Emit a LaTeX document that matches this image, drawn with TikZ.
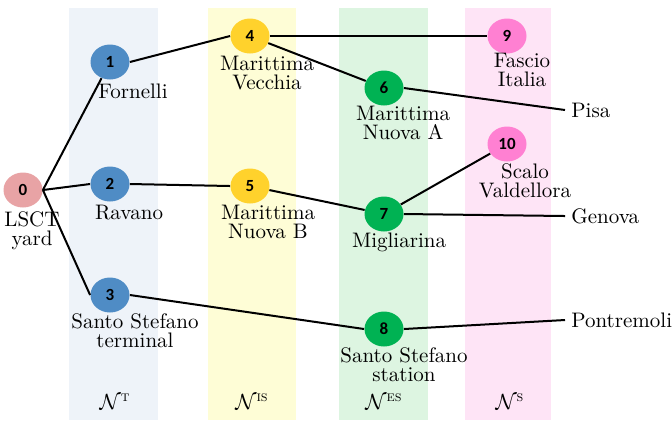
\documentclass[tikz,border=0pt]{standalone}
\usepackage{fontspec}
\usepackage{amsmath}
\usepackage{amssymb}
\usetikzlibrary{shapes.geometric}
\newfontfamily\numfont{Carlito}

\definecolor{bandT}{HTML}{EEF3F9}
\definecolor{bandIS}{HTML}{FEFDD6}
\definecolor{bandES}{HTML}{DDF5E1}
\definecolor{bandS}{HTML}{FEE4F6}
\definecolor{yardcol}{HTML}{E8A3A5}
\definecolor{tcol}{HTML}{4F8CC5}
\definecolor{iscol}{HTML}{FFD22C}
\definecolor{escol}{HTML}{00B253}
\definecolor{scol}{HTML}{FF80D2}

\tikzset{
	stn/.style={ellipse, minimum width=19.5pt, minimum height=17.5pt, inner sep=0pt,
		font=\numfont\bfseries\fontsize{8.5}{8.5}\selectfont},
	lbl/.style={align=center, inner sep=0pt, font=\fontsize{10.5}{9.5}\selectfont},
	ext/.style={anchor=west, inner sep=3pt, font=\fontsize{10.5}{10.5}\selectfont},
	setlbl/.style={font=\fontsize{10.5}{10.5}\selectfont},
	track/.style={line width=1pt, black}
}

\begin{document}
\begin{tikzpicture}[x=0.5pt, y=-0.5pt]
			\useasboundingbox (0,0) rectangle (672,420);

			% sets of nodes
			\fill[bandT] (69,8) rectangle (158,420);
			\fill[bandIS] (208,8) rectangle (296,420);
			\fill[bandES] (339,8) rectangle (428,420);
			\fill[bandS] (465,8) rectangle (551,420);

			\node[setlbl] (setT) at (115,402) {$\mathcal{N}^{\text{\textsc{t}}}$};
			\node[setlbl] (setIS) at (252,402) {$\mathcal{N}^{\text{\textsc{is}}}$};
			\node[setlbl] (setES) at (384,402) {$\mathcal{N}^{\text{\textsc{es}}}$};
			\node[setlbl] (setS) at (510,402) {$\mathcal{N}^{\text{\textsc{s}}}$};

			% stations
			\node[stn, fill=yardcol] (n0) at (23,190) {0};
			\node[stn, fill=tcol] (n1) at (110,62) {1};
			\node[stn, fill=tcol] (n2) at (110,184) {2};
			\node[stn, fill=tcol] (n3) at (110,295) {3};
			\node[stn, fill=iscol] (n4) at (250,36) {4};
			\node[stn, fill=iscol] (n5) at (250,186) {5};
			\node[stn, fill=escol] (n6) at (384,88) {6};
			\node[stn, fill=escol] (n7) at (384,214) {7};
			\node[stn, fill=escol] (n8) at (384,329) {8};
			\node[stn, fill=scol] (n9) at (507,36) {9};
			\node[stn, fill=scol] (n10) at (507,144) {10};

			\node[lbl] (l0) at (32,231) {LSCT\\yard};
			\node[lbl] (l1) at (133,91) {Fornelli};
			\node[lbl] (l2) at (129,213) {Ravano};
			\node[lbl] (l3) at (135,331) {Santo Stefano\\terminal};
			\node[lbl] (l4) at (267,73) {Marittima\\Vecchia};
			\node[lbl] (l5) at (268,222) {Marittima\\Nuova B};
			\node[lbl] (l6) at (403,123) {Marittima\\Nuova A};
			\node[lbl] (l7) at (399,242) {Migliarina};
			\node[lbl] (l8) at (404,365) {Santo Stefano\\station};
			\node[lbl] (l9) at (522,70) {Fascio\\Italia};
			\node[lbl] (l10) at (525,181) {Scalo\\Valdellora};

			\node[ext] (pisa) at (565,110) {Pisa};
			\node[ext] (genova) at (565,216) {Genova};
			\node[ext] (pontremoli) at (565,320) {Pontremoli};

			% tracks
			\draw[track] (n0.east) -- (n1);
			\draw[track] (n0.east) -- (n2.west);
			\draw[track] (n0.east) -- (n3.west);
			\draw[track] (n1.east) -- (n4.west);
			\draw[track] (n2.east) -- (n5.west);
			\draw[track] (n3.east) -- (n8.west);
			\draw[track] (n4.east) -- (n9.west);
			\draw[track] (n4) -- (n6);
			\draw[track] (n5) -- (n7);
			\draw[track] (n7) -- (n10);
			\draw[track] (n6.east) -- (pisa.west);
			\draw[track] (n7.east) -- (genova.west);
			\draw[track] (n8.east) -- (pontremoli.west);
		\end{tikzpicture}
\end{document}
